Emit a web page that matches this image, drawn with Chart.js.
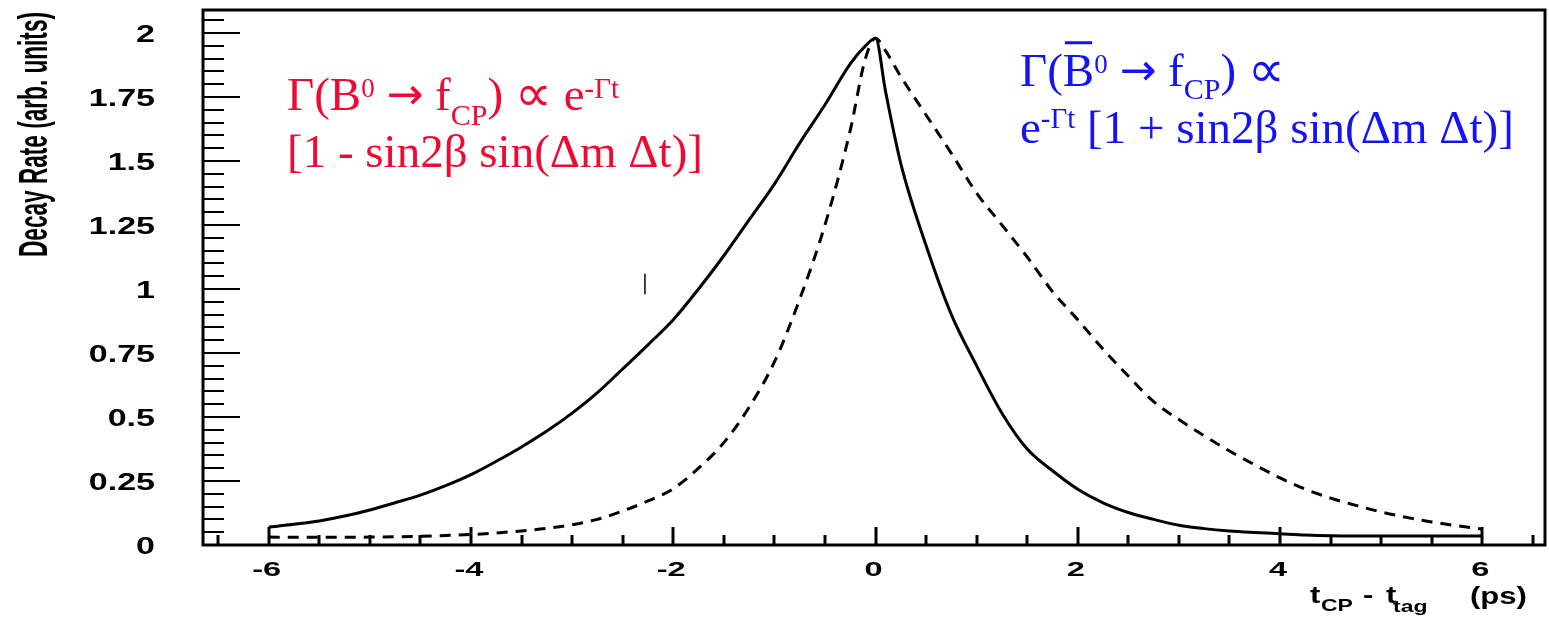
<!DOCTYPE html>
<html>
<head>
<meta charset="utf-8">
<script src="https://cdn.jsdelivr.net/npm/chart.js@4.4.1/dist/chart.umd.min.js"></script>
<style>
html, body { margin: 0; padding: 0; background: #fff; }
#wrap { width: 1549px; height: 626px; position: relative; }
</style>
</head>
<body>
<div id="wrap"><canvas id="c"></canvas></div>
<script>
// t_CP - t_tag (ps)
const tGrid = [-6, -5.75, -5.5, -5.25, -5, -4.75, -4.5, -4.25, -4, -3.75, -3.5, -3.25, -3, -2.75, -2.5, -2.25,
  -2, -1.75, -1.5, -1.25, -1, -0.75, -0.5, -0.25, -0.1, 0, 0.1, 0.25, 0.5, 0.75, 1, 1.25, 1.5, 1.75,
  2, 2.25, 2.5, 2.75, 3, 3.25, 3.5, 3.75, 4, 4.25, 4.5, 4.75, 5, 5.25, 5.5, 5.75, 6];

// solid curve: B0 -> fCP
const rateB0 = [0.070, 0.081, 0.094, 0.113, 0.137, 0.165, 0.195, 0.232, 0.275, 0.327, 0.383, 0.445, 0.515, 0.595, 0.688, 0.782,
  0.88, 1.0, 1.13, 1.27, 1.41, 1.57, 1.72, 1.88, 1.95, 1.98, 1.77, 1.49, 1.17, 0.90, 0.70, 0.515, 0.375, 0.29,
  0.218, 0.165, 0.127, 0.10, 0.077, 0.064, 0.055, 0.049, 0.044, 0.039, 0.036, 0.035, 0.035, 0.035, 0.035, 0.035, 0.035];

// dashed curve: B0bar -> fCP
const rateB0bar = [0.031, 0.030, 0.030, 0.030, 0.031, 0.032, 0.034, 0.037, 0.041, 0.047, 0.055, 0.065, 0.079, 0.10, 0.133, 0.172,
  0.22, 0.30, 0.40, 0.538, 0.715, 0.96, 1.25, 1.62, 1.90, 1.98, 1.93, 1.83, 1.68, 1.53, 1.375, 1.25, 1.125, 0.99,
  0.88, 0.765, 0.66, 0.56, 0.49, 0.427, 0.367, 0.313, 0.262, 0.218, 0.183, 0.155, 0.129, 0.108, 0.09, 0.075, 0.062];

const yTickLabels = ['0', '0.25', '0.5', '0.75', '1', '1.25', '1.5', '1.75', '2'];
const xTickLabels = ['-6', '-4', '-2', '0', '2', '4', '6'];
const yTitle = 'Decay Rate (arb. units)';

// little stray mark left in the original picture
const strayMark = { t: -2.28, v0: 0.98, v1: 1.06 };

const RED = '#ee0a32';
const BLUE = '#1414f2';
const SERIF = "'Liberation Serif', 'Times New Roman', serif";
const SYM = "'DejaVu Sans', sans-serif";

function stretched(ctx, text, x, y, sx, align) {
  ctx.save();
  ctx.translate(x, y);
  ctx.scale(sx, 1);
  ctx.textAlign = align;
  ctx.fillText(text, 0, 0);
  ctx.restore();
}

function rich(ctx, x, y, parts, color) {
  ctx.save();
  ctx.fillStyle = color;
  ctx.strokeStyle = color;
  ctx.textAlign = 'left';
  ctx.textBaseline = 'alphabetic';
  for (const p of parts) {
    ctx.font = p.s + 'px ' + (p.f || SERIF);
    const w = ctx.measureText(p.t).width;
    ctx.fillText(p.t, x, y + (p.dy || 0));
    if (p.bar) {
      ctx.lineWidth = 3;
      ctx.beginPath();
      ctx.moveTo(x + 2, y - p.s * 0.92);
      ctx.lineTo(x + w - 2, y - p.s * 0.92);
      ctx.stroke();
    }
    x += w;
  }
  ctx.restore();
}

const axesPlugin = {
  id: 'axesPlugin',
  afterDatasetsDraw(chart) {
    const { ctx, chartArea: a, scales: { x, y } } = chart;
    ctx.save();
    ctx.strokeStyle = '#000';
    ctx.fillStyle = '#000';

    // y ticks, every 0.05, major every 0.25
    ctx.lineWidth = 2;
    for (let i = 0; i <= 41; i++) {
      const py = Math.round(y.getPixelForValue(i * 0.05));
      const len = i % 5 === 0 ? 37 : 21;
      ctx.beginPath();
      ctx.moveTo(a.left, py);
      ctx.lineTo(a.left + len, py);
      ctx.stroke();
    }
    // x ticks, every 0.5, major every 2
    ctx.lineWidth = 3;
    for (let i = -13; i <= 13; i++) {
      const px = Math.round(x.getPixelForValue(i * 0.5));
      const len = i % 4 === 0 ? 18 : 10;
      ctx.beginPath();
      ctx.moveTo(px, a.bottom);
      ctx.lineTo(px, a.bottom - len);
      ctx.stroke();
    }

    // frame
    ctx.lineWidth = 3;
    ctx.strokeRect(a.left, a.top, a.right - a.left, a.bottom - a.top);

    // stray mark
    ctx.lineWidth = 1.5;
    const sx = x.getPixelForValue(strayMark.t);
    ctx.beginPath();
    ctx.moveTo(sx, y.getPixelForValue(strayMark.v0));
    ctx.lineTo(sx, y.getPixelForValue(strayMark.v1));
    ctx.stroke();

    // tick labels
    ctx.textBaseline = 'alphabetic';
    ctx.font = "bold 23px 'Liberation Sans', Arial, sans-serif";
    yTickLabels.forEach((lab, i) => {
      const py = y.getPixelForValue(i * 0.25);
      stretched(ctx, lab, 155, py + 8.5, 1.48, 'right');
    });
    ctx.font = "bold 21px 'Liberation Sans', Arial, sans-serif";
    xTickLabels.forEach((lab) => {
      const px = x.getPixelForValue(parseFloat(lab));
      stretched(ctx, lab, px - 2, 576, 1.55, 'center');
    });

    // y title
    ctx.save();
    ctx.font = "bold 40px 'Liberation Sans', Arial, sans-serif";
    const w = ctx.measureText(yTitle).width;
    ctx.translate(47, 134.5);
    ctx.rotate(-Math.PI / 2);
    ctx.scale(245 / w, 1);
    ctx.textAlign = 'center';
    ctx.fillText(yTitle, 0, 0);
    ctx.restore();

    // x title: t_CP - t_tag (ps)
    const big = "bold 23px 'Liberation Sans', Arial, sans-serif";
    const small = "bold 17px 'Liberation Sans', Arial, sans-serif";
    [[big, 't', 1310, 603], [small, 'CP', 1321, 611], [big, '-', 1363, 603],
     [big, 't', 1386, 603], [small, 'tag', 1393, 612], [big, '(ps)', 1470, 604]].forEach(([f, s, px, py]) => {
      ctx.font = f;
      stretched(ctx, s, px, py, 1.35, 'left');
    });
    ctx.restore();

    // formulas
    rich(ctx, 287, 110, [
      { t: 'Γ(B', s: 47 }, { t: '0', s: 27, dy: -13 }, { t: ' ', s: 47 }, { t: '→', s: 44, f: SYM, dy: -1 },
      { t: ' f', s: 47 }, { t: 'CP', s: 30, dy: 15 }, { t: ') ', s: 47 }, { t: '∝', s: 52, f: SYM, dy: 1 },
      { t: ' e', s: 47 }, { t: '-Γt', s: 29, dy: -12 }
    ], RED);
    rich(ctx, 287, 167, [{ t: '[1 - sin2β sin(Δm Δt)]', s: 47 }], RED);

    rich(ctx, 1020, 86, [
      { t: 'Γ(', s: 47 }, { t: 'B', s: 47, bar: true }, { t: '0', s: 27, dy: -13 }, { t: ' ', s: 47 },
      { t: '→', s: 44, f: SYM, dy: -1 }, { t: ' f', s: 47 }, { t: 'CP', s: 30, dy: 13 }, { t: ') ', s: 47 },
      { t: '∝', s: 52, f: SYM, dy: 1 }
    ], BLUE);
    rich(ctx, 1020, 143, [
      { t: 'e', s: 47 }, { t: '-Γt', s: 29, dy: -15 }, { t: ' [1 + sin2β sin(Δm Δt)]', s: 47 }
    ], BLUE);
  }
};

new Chart(document.getElementById('c'), {
  type: 'scatter',
  data: {
    datasets: [
      {
        data: tGrid.map((t, i) => ({ x: t, y: rateB0[i] })),
        showLine: true, borderColor: '#000', borderWidth: 3, pointRadius: 0,
        cubicInterpolationMode: 'monotone'
      },
      {
        data: tGrid.map((t, i) => ({ x: t, y: rateB0bar[i] })),
        showLine: true, borderColor: '#000', borderWidth: 3, pointRadius: 0,
        borderDash: [11, 8], cubicInterpolationMode: 'monotone'
      }
    ]
  },
  options: {
    responsive: true,
    maintainAspectRatio: false,
    animation: false,
    layout: { padding: { left: 203, right: 4, top: 10, bottom: 81 } },
    plugins: { legend: { display: false }, tooltip: { enabled: false } },
    scales: {
      x: { type: 'linear', min: -6.65, max: 6.62, display: false },
      y: { min: 0, max: 2.09, display: false }
    }
  },
  plugins: [axesPlugin]
});
</script>
</body>
</html>
